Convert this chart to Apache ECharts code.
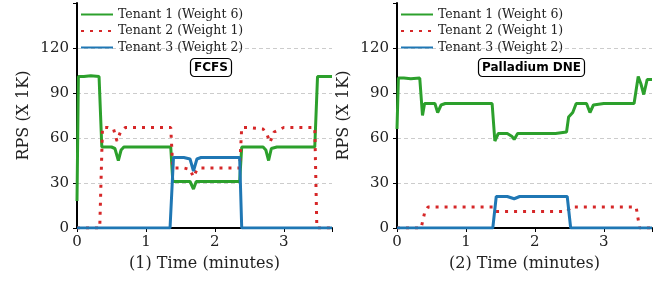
<!DOCTYPE html>
<html>
<head>
<meta charset="utf-8">
<script src="https://cdn.jsdelivr.net/npm/echarts@6/dist/echarts.min.js"></script>
<style>
  html, body { margin: 0; padding: 0; background: #fff; }
  #chart { width: 657px; height: 281px; }
</style>
</head>
<body>
<div id="chart"></div>
<script>
// tenant names and panel labels
const tenantNames = ['Tenant 1 (Weight 6)', 'Tenant 2 (Weight 1)', 'Tenant 3 (Weight 2)'];
const panelTitles = ['FCFS', 'Palladium DNE'];
const panelXNames = ['(1) Time (minutes)', '(2) Time (minutes)'];
const yTicks = [0, 30, 60, 90, 120];

// FCFS panel (time in minutes, RPS x 1K)
const fcfsT1Time = [0, 0.02, 0.1, 0.2, 0.32, 0.36, 0.5, 0.55, 0.6, 0.64, 0.68, 0.8, 1.0, 1.2, 1.36, 1.39, 1.55, 1.64, 1.69, 1.73, 1.8, 2.0, 2.2, 2.36, 2.39, 2.5, 2.7, 2.74, 2.78, 2.82, 2.9, 3.1, 3.3, 3.45, 3.49, 3.6, 3.7];
const fcfsT1Rps  = [18, 101, 101, 101.5, 101, 54, 54, 53, 45, 52, 54, 54, 54, 54, 54, 31, 31, 31, 26, 31, 31, 31, 31, 31, 54, 54, 54, 52, 45, 53, 54, 54, 54, 54, 101, 101, 101];
const fcfsT2Time = [0, 0.33, 0.37, 0.45, 0.53, 0.58, 0.63, 0.7, 0.9, 1.1, 1.36, 1.39, 1.55, 1.64, 1.69, 1.74, 1.8, 2.0, 2.2, 2.36, 2.39, 2.5, 2.7, 2.76, 2.8, 2.86, 3.0, 3.2, 3.45, 3.48, 3.7];
const fcfsT2Rps  = [0, 0, 67, 67, 66, 58, 64, 67, 67, 67, 67, 40, 40, 39, 34, 39, 40, 40, 40, 40, 67, 67, 66, 62, 57, 64, 67, 67, 67, 0, 0];
const fcfsT3Time = [0, 1.35, 1.4, 1.55, 1.64, 1.69, 1.74, 1.8, 2.0, 2.2, 2.36, 2.39, 3.7];
const fcfsT3Rps  = [0, 0, 47, 47, 46, 38, 46, 47, 47, 47, 47, 0, 0];

// Palladium DNE panel
const dneT1Time = [0, 0.02, 0.1, 0.2, 0.33, 0.37, 0.4, 0.45, 0.55, 0.59, 0.64, 0.7, 0.9, 1.1, 1.3, 1.38, 1.42, 1.47, 1.6, 1.67, 1.7, 1.75, 1.9, 2.1, 2.3, 2.46, 2.49, 2.55, 2.6, 2.75, 2.8, 2.85, 3.0, 3.2, 3.44, 3.5, 3.54, 3.58, 3.63, 3.7];
const dneT1Rps  = [66, 100, 100, 99.5, 100, 75, 83, 83, 83, 77, 82, 83, 83, 83, 83, 83, 58, 63, 63, 61, 59, 63, 63, 63, 63, 64, 74, 77, 83, 83, 77, 82, 83, 83, 83, 101, 96, 89, 99, 99];
const dneT2Time = [0, 0.35, 0.4, 0.45, 0.6, 0.8, 1.0, 1.2, 1.39, 1.43, 1.6, 1.8, 2.0, 2.2, 2.47, 2.52, 2.7, 2.9, 3.1, 3.3, 3.47, 3.52, 3.7];
const dneT2Rps  = [0, 0, 10, 14, 14, 14, 14, 14, 14, 11, 11, 11, 11, 11, 11, 14, 14, 14, 14, 14, 14, 0, 0];
const dneT3Time = [0, 1.39, 1.44, 1.6, 1.7, 1.78, 2.0, 2.2, 2.47, 2.52, 3.7];
const dneT3Rps  = [0, 0, 21, 21, 19.5, 21, 21, 21, 21, 0, 0];

const colors = ['#2ca02c', '#d62728', '#1f77b4'];
const serif = 'DejaVu Serif';

function pairs(t, v) {
  return t.map((x, i) => [x, v[i]]);
}

const panels = [
  [pairs(fcfsT1Time, fcfsT1Rps), pairs(fcfsT2Time, fcfsT2Rps), pairs(fcfsT3Time, fcfsT3Rps)],
  [pairs(dneT1Time, dneT1Rps), pairs(dneT2Time, dneT2Rps), pairs(dneT3Time, dneT3Rps)]
];

const gridLefts = [77, 397];

let grid = [], xAxis = [], yAxis = [], series = [], legend = [], title = [];

panels.forEach((panel, p) => {
  grid.push({ left: gridLefts[p], top: 3, width: 255, height: 225 });
  xAxis.push({
    type: 'value', gridIndex: p, min: 0, max: 3.7, interval: 1,
    name: panelXNames[p], nameLocation: 'middle', nameGap: 28,
    nameTextStyle: { fontFamily: serif, fontSize: 16, color: '#222' },
    axisLine: { lineStyle: { color: '#000', width: 2 } },
    axisTick: { show: true, length: 4, lineStyle: { color: '#000' } },
    axisLabel: {
      fontFamily: serif, fontSize: 15, color: '#222', margin: 7,
      formatter: v => (Number.isInteger(v) ? String(v) : '')
    },
    splitLine: { show: false }
  });
  yAxis.push({
    type: 'value', gridIndex: p, min: 0, max: 150, interval: 30,
    name: 'RPS (X 1K)', nameLocation: 'middle', nameGap: 45,
    nameTextStyle: { fontFamily: serif, fontSize: 16, color: '#222' },
    axisLine: { show: true, lineStyle: { color: '#000', width: 2 } },
    axisTick: { show: true, length: 4, lineStyle: { color: '#000' } },
    axisLabel: {
      fontFamily: serif, fontSize: 15, color: '#222', margin: 8,
      formatter: v => (yTicks.includes(v) ? String(v) : '')
    },
    splitLine: { show: true, showMinLine: false, showMaxLine: false, lineStyle: { color: '#ccc', type: [4, 3], width: 1 } }
  });
  panel.forEach((data, k) => {
    series.push({
      name: tenantNames[k], type: 'line', xAxisIndex: p, yAxisIndex: p,
      data: data, symbol: 'none', animation: false,
      color: colors[k],
      lineStyle: k === 1
        ? { color: colors[k], width: 3, type: [3, 6], cap: 'butt' }
        : { color: colors[k], width: 3 }
    });
  });
  legend.push({
    data: tenantNames, orient: 'vertical',
    left: gridLefts[p] + 3, top: 8, padding: 0,
    itemWidth: 32, itemHeight: 12, itemGap: 3.5,
    itemStyle: { opacity: 0 },
    textStyle: { fontFamily: serif, fontSize: 12.5, color: '#222' },
    selectedMode: false
  });
});

const boxStyle = {
  top: 58, padding: [4, 4, 3, 4], borderColor: '#000', borderWidth: 1.2, borderRadius: 4,
  backgroundColor: '#fff',
  textStyle: { fontFamily: 'DejaVu Sans', fontWeight: 'bold', fontSize: 12, color: '#000' }
};
title.push(Object.assign({ text: panelTitles[0], left: 190 }, boxStyle));
title.push(Object.assign({ text: panelTitles[1], left: 478 }, boxStyle));

let myChart = echarts.init(document.getElementById('chart'));
myChart.setOption({
  animation: false,
  title: title,
  legend: legend,
  grid: grid,
  xAxis: xAxis,
  yAxis: yAxis,
  series: series
});
</script>
</body>
</html>
